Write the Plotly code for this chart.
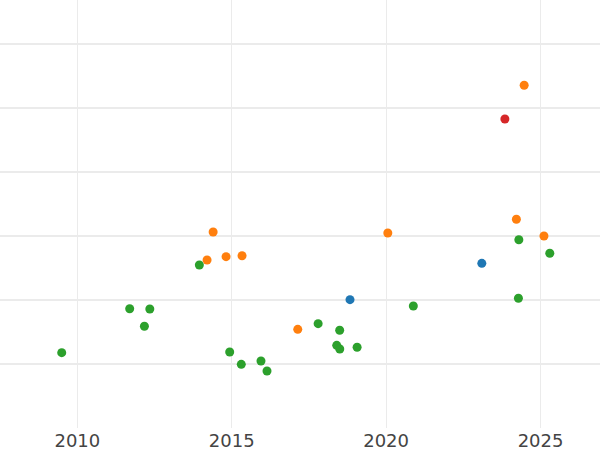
import plotly.graph_objects as go

green_x = ["2009-06-30", "2011-09-12", "2012-05-07", "2012-03-04", "2013-12-14",
           "2014-12-08", "2015-04-24", "2015-12-13", "2016-02-22", "2017-10-19",
           "2018-07-01", "2018-05-27", "2018-07-02", "2019-01-23", "2020-11-18",
           "2024-04-19", "2025-04-20", "2024-04-14"]
green_y = [1.177, 1.864, 1.859, 1.589, 2.547,
           1.1875, 0.995, 1.047, 0.891, 1.630,
           1.527, 1.292, 1.234, 1.261, 1.906,
           2.942, 2.730, 2.027]

orange_x = ["2014-03-15", "2014-05-26", "2014-10-26", "2015-05-03", "2017-02-20",
            "2020-01-21", "2024-03-21", "2025-02-10", "2024-06-21"]
orange_y = [2.625, 3.0625, 2.677, 2.692, 1.542,
            3.047, 3.261, 3.0, 5.355]

blue_x = ["2018-10-31", "2023-02-06"]
blue_y = [2.005, 2.573]

red_x = ["2023-11-06"]
red_y = [4.828]

series = [
    ("green", green_x, green_y, "#2ca02c"),
    ("orange", orange_x, orange_y, "#ff7f0e"),
    ("blue", blue_x, blue_y, "#1f77b4"),
    ("red", red_x, red_y, "#d62728"),
]

fig = go.Figure()
for name, xs, ys, col in series:
    fig.add_trace(go.Scatter(x=xs, y=ys, mode="markers", name=name,
                             marker=dict(color=col, size=9, line=dict(width=0))))

fig.update_layout(
    width=600, height=450,
    margin=dict(l=0, r=0, t=0, b=22),
    paper_bgcolor="white", plot_bgcolor="white",
    showlegend=False,
    font=dict(family="DejaVu Sans", size=18, color="#444"),
)
fig.update_xaxes(type="date", range=["2007-07-01", "2026-12-05"],
                 tickvals=["2010-01-01", "2015-01-01", "2020-01-01", "2025-01-01"],
                 ticktext=["2010", "2015", "2020", "2025"],
                 showgrid=True, gridcolor="#ebebeb", gridwidth=1,
                 zeroline=False, showline=False, ticks="")
fig.update_yaxes(range=[0, 6.6875], dtick=1, showticklabels=False,
                 showgrid=True, gridcolor="#ebebeb", gridwidth=2,
                 zeroline=False, showline=False, ticks="")

fig.write_html("out.html", config={"displayModeBar": False},
               post_script="document.body.style.margin='0';document.body.style.overflow='hidden';")
